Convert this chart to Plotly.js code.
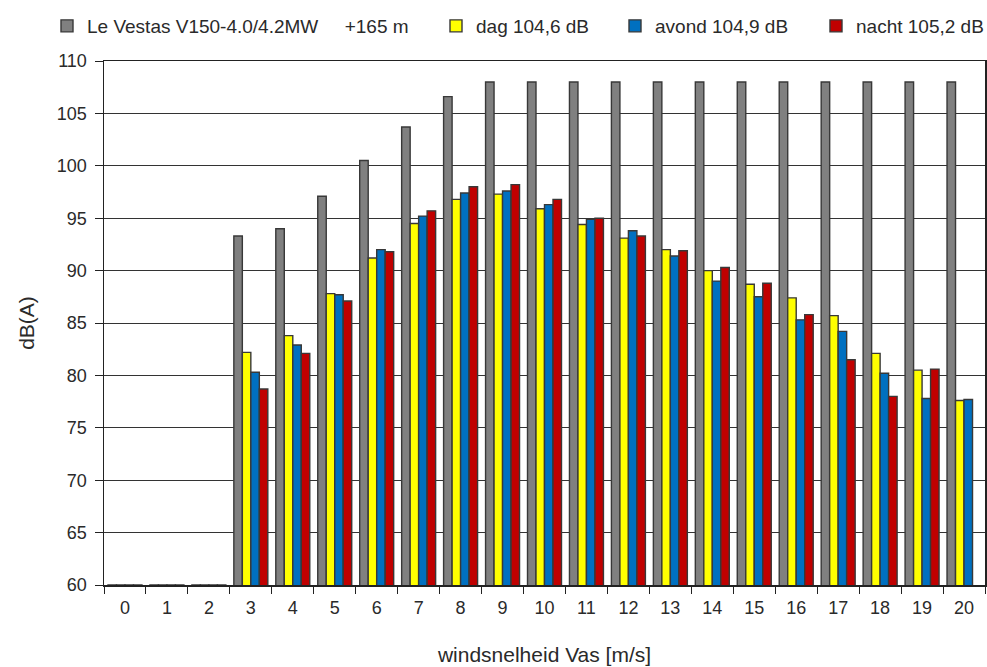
<!DOCTYPE html>
<html>
<head>
<meta charset="utf-8">
<script src="https://cdn.plot.ly/plotly-3.0.1.min.js"></script>
<style>html,body{margin:0;padding:0;background:#fff;}#chart{width:987px;height:667px;}</style>
</head>
<body>
<div id="chart"></div>
<script>
const categories = ['0','1','2','3','4','5','6','7','8','9','10','11','12','13','14','15','16','17','18','19','20'];
const vestas = [60,60,60,93.3,94.0,97.1,100.5,103.7,106.6,108.0,108.0,108.0,108.0,108.0,108.0,108.0,108.0,108.0,108.0,108.0,108.0];
const dag    = [60,60,60,82.2,83.8,87.8,91.2,94.5,96.8,97.3,95.9,94.4,93.1,92.0,90.0,88.7,87.4,85.7,82.1,80.5,77.6];
const avond  = [60,60,60,80.3,82.9,87.7,92.0,95.2,97.4,97.6,96.3,94.9,93.8,91.4,89.0,87.5,85.3,84.2,80.2,77.8,77.7];
const nacht  = [60,60,60,78.7,82.1,87.1,91.8,95.7,98.0,98.2,96.8,95.0,93.3,91.9,90.3,88.8,85.8,81.5,78.0,80.6,null];
const names = ['Le Vestas V150-4.0/4.2MW\u00A0\u00A0\u00A0\u00A0\u00A0+165 m','dag 104,6 dB','avond 104,9 dB','nacht 105,2 dB'];
const colors = ['#808080','#FFFF00','#0070C0','#C00000'];
const series = [vestas, dag, avond, nacht];
const legendIds = ['legend','legend2','legend3','legend4'];
const legendX = [47, 436, 615, 816];

const FONT = '"Liberation Sans",Arial,Helvetica,sans-serif';
const TXT = '#2a2a2a';

const traces = series.map((s,i)=>({
  type:'bar',
  x: categories,
  y: s,
  name: names[i],
  legend: legendIds[i],
  marker:{color: colors[i], line:{color:'#383838', width:1.4}},
  hoverinfo:'x+y'
}));

const layout = {
  width:987, height:667,
  margin:{l:104, r:2, t:61, b:82},
  paper_bgcolor:'#fff', plot_bgcolor:'#fff',
  font:{family:FONT, size:18, color:TXT},
  barmode:'group',
  bargap:0.19,
  bargroupgap:0,
  showlegend:true,
  xaxis:{
    type:'category',
    tickson:'boundaries',
    ticks:'outside', ticklen:7, tickcolor:'#222', tickwidth:1,
    ticklabelstandoff:6,
    showline:true, linecolor:'#222', linewidth:1.5, mirror:true,
    showgrid:false, zeroline:false,
    tickfont:{family:FONT, size:18, color:TXT},
    title:{text:'windsnelheid Vas [m/s]', font:{family:FONT, size:21, color:TXT}, standoff:30}
  },
  yaxis:{
    range:[60,110],
    dtick:5, tick0:60,
    ticks:'outside', ticklen:8, tickcolor:'#222',
    ticklabelstandoff:4,
    showline:true, linecolor:'#222', linewidth:1.5, mirror:true,
    showgrid:true, gridcolor:'#333', gridwidth:1, zeroline:false,
    tickfont:{family:FONT, size:18, color:TXT},
    title:{text:'dB(A)', font:{family:FONT, size:21, color:TXT}, standoff:16}
  }
};
legendIds.forEach((id,i)=>{
  layout[id] = {orientation:'h', xref:'container', yref:'container',
    x: legendX[i]/987, y: 1 - 26/667, xanchor:'left', yanchor:'middle',
    font:{family:FONT, size:19, color:TXT}, itemwidth:30, bgcolor:'rgba(0,0,0,0)', borderwidth:0};
});

Plotly.newPlot('chart', traces, layout, {displayModeBar:false, staticPlot:true});
</script>
</body>
</html>
